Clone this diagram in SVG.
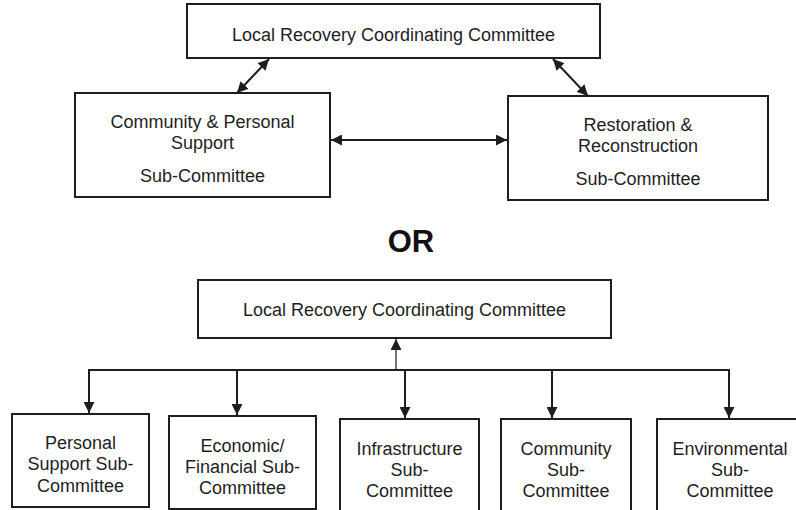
<svg xmlns="http://www.w3.org/2000/svg" width="796" height="510" viewBox="0 0 796 510">
<style>
  .box { fill: #ffffff; stroke: #1e1e1e; stroke-width: 2; }
  .t { font-family: "Liberation Sans", Arial, sans-serif; font-size: 18px; fill: #1e1e1e; text-anchor: middle; }
  .or { font-family: "Liberation Sans", Arial, sans-serif; font-size: 31px; font-weight: bold; fill: #111111; text-anchor: middle; }
  .c { fill: none; stroke: #1e1e1e; stroke-width: 2; }
  .thin { fill: none; stroke: #444444; stroke-width: 1.5; }
</style>
<defs>
  <marker id="ah" viewBox="0 0 10 10" refX="10" refY="5" markerUnits="userSpaceOnUse" markerWidth="11" markerHeight="11" orient="auto-start-reverse">
    <path d="M0,0 L10,5 L0,10 z" fill="#1e1e1e"/>
  </marker>
</defs>
<rect width="796" height="510" fill="#ffffff"/>

<g id="connectors">
  <line class="c" x1="269" y1="59" x2="237" y2="93" marker-start="url(#ah)" marker-end="url(#ah)"/>
  <line class="c" x1="553" y1="59" x2="588" y2="96" marker-start="url(#ah)" marker-end="url(#ah)"/>
  <line class="c" x1="331" y1="140" x2="507" y2="140" marker-start="url(#ah)" marker-end="url(#ah)"/>
  <line class="thin" x1="396" y1="370" x2="396" y2="339" marker-end="url(#ah)"/>
  <line class="c" x1="88" y1="370" x2="730" y2="370"/>
  <line class="c" x1="89" y1="369" x2="89" y2="413" marker-end="url(#ah)"/>
  <line class="c" x1="237" y1="369" x2="237" y2="415" marker-end="url(#ah)"/>
  <line class="c" x1="405" y1="369" x2="405" y2="418" marker-end="url(#ah)"/>
  <line class="c" x1="552" y1="369" x2="552" y2="418" marker-end="url(#ah)"/>
  <line class="c" x1="729" y1="369" x2="729" y2="418" marker-end="url(#ah)"/>
</g>

<g id="lrcc-top">
  <rect class="box" x="187" y="4" width="413" height="54"/>
  <text class="t" x="393.5" y="41">Local Recovery Coordinating Committee</text>
</g>
<g id="community-personal">
  <rect class="box" x="75" y="93" width="255" height="104"/>
  <text class="t" x="202.5" y="128">Community &amp; Personal</text>
  <text class="t" x="202.5" y="149">Support</text>
  <text class="t" x="202.5" y="182">Sub-Committee</text>
</g>
<g id="restoration">
  <rect class="box" x="508" y="96" width="260" height="104"/>
  <text class="t" x="638" y="131">Restoration &amp;</text>
  <text class="t" x="638" y="152">Reconstruction</text>
  <text class="t" x="638" y="185">Sub-Committee</text>
</g>

<text class="or" x="411" y="252">OR</text>

<g id="lrcc-bottom">
  <rect class="box" x="198" y="280" width="413" height="58"/>
  <text class="t" x="404.5" y="316">Local Recovery Coordinating Committee</text>
</g>
<g id="personal-support">
  <rect class="box" x="12" y="414" width="137" height="93"/>
  <text class="t" x="80.5" y="449">Personal</text>
  <text class="t" x="80.5" y="470">Support Sub-</text>
  <text class="t" x="80.5" y="492">Committee</text>
</g>
<g id="economic-financial">
  <rect class="box" x="169" y="416" width="147" height="93"/>
  <text class="t" x="242.5" y="452">Economic/</text>
  <text class="t" x="242.5" y="473">Financial Sub-</text>
  <text class="t" x="242.5" y="494">Committee</text>
</g>
<g id="infrastructure">
  <rect class="box" x="340" y="419" width="139" height="92"/>
  <text class="t" x="409.5" y="455">Infrastructure</text>
  <text class="t" x="409.5" y="476">Sub-</text>
  <text class="t" x="409.5" y="497">Committee</text>
</g>
<g id="community">
  <rect class="box" x="501" y="419" width="130" height="92"/>
  <text class="t" x="566" y="455">Community</text>
  <text class="t" x="566" y="476">Sub-</text>
  <text class="t" x="566" y="497">Committee</text>
</g>
<g id="environmental">
  <rect class="box" x="657" y="419" width="144" height="92"/>
  <text class="t" x="730" y="455">Environmental</text>
  <text class="t" x="730" y="476">Sub-</text>
  <text class="t" x="730" y="497">Committee</text>
</g>
</svg>
